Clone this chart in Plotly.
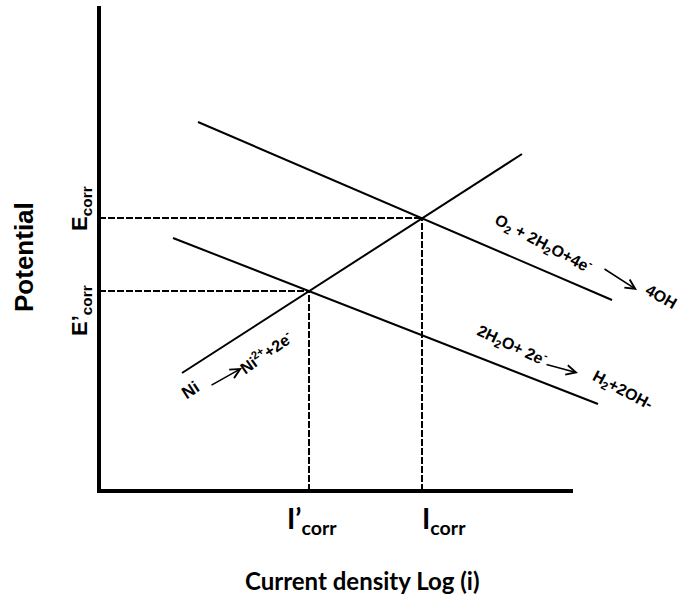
import plotly.graph_objects as go

# ---- data (abstract units: log current density, potential) ----
anodic_x = [8.3, 42.3]       # Ni -> Ni2+ + 2e-
anodic_y = [11.8, 33.7]
o2_x = [9.9, 51.3]           # O2 + 2H2O + 4e- -> 4OH-
o2_y = [36.9, 19.1]
h2o_x = [7.4, 49.9]          # 2H2O + 2e- -> H2 + 2OH-
h2o_y = [25.3, 8.7]
corr_I = [32.3, 21.0]        # Icorr, I'corr
corr_E = [27.3, 20.0]        # Ecorr, E'corr
corr_I_labels = ["I<sub>corr</sub>", "I’<sub>corr</sub>"]
corr_E_labels = ["E<sub>corr</sub>", "E’<sub>corr</sub>"]

X_RANGE = [0, 58]
Y_RANGE = [0, 48.5]


def px(v):  # data x -> paper x (for labels outside the plot area)
    return (v - X_RANGE[0]) / (X_RANGE[1] - X_RANGE[0])


def py(v):
    return (v - Y_RANGE[0]) / (Y_RANGE[1] - Y_RANGE[0])


fig = go.Figure()
line_style = dict(color="black", width=2)
for xs, ys in [(anodic_x, anodic_y), (o2_x, o2_y), (h2o_x, h2o_y)]:
    fig.add_trace(go.Scatter(x=xs, y=ys, mode="lines", line=line_style,
                             hoverinfo="skip", showlegend=False))

dash_style = dict(color="black", width=2, dash="7px,2px")
for I, E in zip(corr_I, corr_E):
    fig.add_trace(go.Scatter(x=[X_RANGE[0], I], y=[E, E], mode="lines",
                             line=dash_style, showlegend=False, hoverinfo="skip"))
    fig.add_trace(go.Scatter(x=[I, I], y=[Y_RANGE[0], E], mode="lines",
                             line=dash_style, showlegend=False, hoverinfo="skip"))

# axes lines (as in the original drawing)
fig.add_shape(type="line", xref="paper", yref="paper", x0=-2/580, x1=474/580,
              y0=0, y1=0, line=dict(color="black", width=4))
fig.add_shape(type="line", xref="paper", yref="paper", x0=0, x1=0,
              y0=-2/485, y1=1, line=dict(color="black", width=4))

ann = []
bold_sans = "Liberation Sans, Arial, sans-serif"
cal = "Lato, sans-serif"
ctr = dict(xanchor="center", yanchor="middle", xref="paper", yref="paper",
           showarrow=False)

# y label
ann.append(dict(x=px(-7.5), y=py(23.4), text="<b>Potential</b>", textangle=-90,
                font=dict(family=bold_sans, size=26, color="black"), **ctr))
# Ecorr labels
for E, lab in zip(corr_E, corr_E_labels):
    ann.append(dict(x=px(-1.8), y=py(E + 0.9 if "’" not in lab else E - 2.0),
                    text="<b>" + lab + "</b>", textangle=-90,
                    font=dict(family=bold_sans, size=22, color="black"), **ctr))
# Icorr labels
for I, lab in zip(corr_I, corr_I_labels):
    ann.append(dict(x=px(I + 2.2 if "’" not in lab else I + 0.3), y=py(-2.9),
                    text="<b>" + lab + "</b>",
                    font=dict(family=cal, size=28, color="black"), **ctr))
# x label
ann.append(dict(x=px(26.3), y=py(-8.9), text="<b>Current density Log (i)</b>",
                font=dict(family=cal, size=24, color="black"), **ctr))

rx = dict(family=bold_sans, size=16, color="black")
# reaction texts
rtexts = [
    dict(x=9.1, y=10.1, text="<b>Ni</b>", textangle=-33, font=dict(family=bold_sans, size=17, color="black")),
    dict(x=16.7, y=13.9, text="<b>Ni<sup>2+</sup>+2e<sup>-</sup></b>", textangle=-35, font=rx),
    dict(x=44.4, y=24.8, text="<b>O<sub>2</sub> + 2H<sub>2</sub>O+4e<sup>-</sup></b>", textangle=28, font=rx),
    dict(x=56.2, y=19.5, text="<b>4OH</b>", textangle=30, font=dict(family=bold_sans, size=16, color="black")),
    dict(x=41.3, y=14.6, text="<b>2H<sub>2</sub>O+ 2e<sup>-</sup></b>", textangle=25, font=rx),
    dict(x=52.3, y=10.1, text="<b>H<sub>2</sub>+2OH-</b>", textangle=28, font=rx),
]
for a in rtexts:
    a.update(xref="x", yref="y", showarrow=False, xanchor="center", yanchor="middle")
ann += rtexts

# reaction arrows (tail -> head)
arrows = [((11.1, 10.5), (14.3, 12.3)),
          ((50.4, 22.3), (53.8, 20.1)),
          ((44.6, 12.7), (47.9, 11.8))]
for (tx, ty), (hx, hy) in arrows:
    ann.append(dict(x=hx, y=hy, ax=tx, ay=ty, xref="x", yref="y",
                    axref="x", ayref="y", text="", showarrow=True,
                    arrowhead=5, arrowsize=1.2, arrowwidth=1.6,
                    arrowcolor="black", standoff=0, startstandoff=0))

fig.update_layout(
    width=679, height=598,
    margin=dict(l=99, r=0, t=6, b=107),
    paper_bgcolor="white", plot_bgcolor="white",
    xaxis=dict(range=X_RANGE, showgrid=False, zeroline=False,
               showticklabels=False, showline=False, ticks=""),
    yaxis=dict(range=Y_RANGE, showgrid=False, zeroline=False,
               showticklabels=False, showline=False, ticks=""),
    annotations=ann,
    showlegend=False,
)
fig.write_html("out.html")
